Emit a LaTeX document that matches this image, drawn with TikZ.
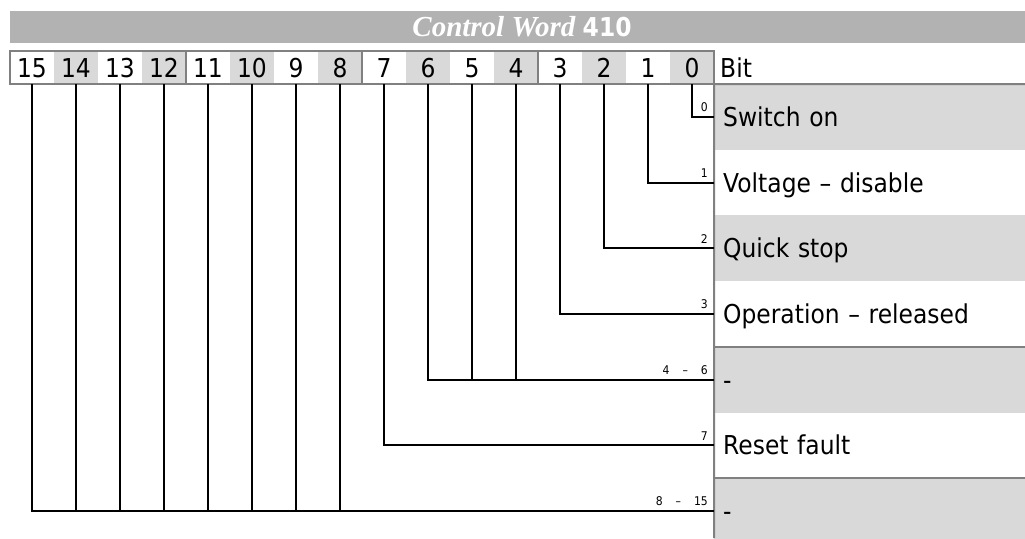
\documentclass[tikz,border=0pt]{standalone}
\usepackage{fontspec}
\setmainfont{DejaVu Sans}[FakeStretch=0.9]
\newfontfamily\headserif{Liberation Serif}
\usetikzlibrary{positioning}
\definecolor{cwgray}{RGB}{217,217,217}
\definecolor{cwhead}{RGB}{178,178,178}
\definecolor{cwline}{RGB}{128,128,128}
\tikzset{
  bitcell/.style={fill=#1, minimum width=44pt, minimum height=33pt, inner sep=0pt,
                  text height=19pt, text depth=0pt, font=\fontsize{26}{30}\selectfont},
  rowbox/.style={fill=#1, anchor=west, minimum height=65.7pt, inner xsep=9pt, inner ysep=0pt,
                 text width=293pt, text height=19pt, text depth=0pt, align=left,
                 font=\fontsize{26}{30}\selectfont},
  bitlbl/.style={anchor=south east, inner xsep=6pt, inner ysep=5pt, font=\fontsize{12}{14}\selectfont},
  wire/.style={black, line width=2pt},
  sepline/.style={cwline, line width=2pt},
}

\begin{document}
\begin{tikzpicture}[x=1pt, y=-1pt]
\useasboundingbox (0,0) rectangle (1025,538);

% --- Header ---
\fill[cwhead] (10,11) rectangle (1025,43);
\node[text=white, font=\fontsize{29}{32}\selectfont] (title) at (522,27)
      {\headserif\bfseries\itshape Control Word \normalfont\bfseries\fontsize{26}{28}\selectfont 410};

% --- Bit row ---
\node[bitcell=white]  (b15) at (32,67.5)  {15};
\node[bitcell=cwgray] (b14) at (76,67.5)  {14};
\node[bitcell=white]  (b13) at (120,67.5) {13};
\node[bitcell=cwgray] (b12) at (164,67.5) {12};
\node[bitcell=white]  (b11) at (208,67.5) {11};
\node[bitcell=cwgray] (b10) at (252,67.5) {10};
\node[bitcell=white]  (b9)  at (296,67.5) {9};
\node[bitcell=cwgray] (b8)  at (340,67.5) {8};
\node[bitcell=white]  (b7)  at (384,67.5) {7};
\node[bitcell=cwgray] (b6)  at (428,67.5) {6};
\node[bitcell=white]  (b5)  at (472,67.5) {5};
\node[bitcell=cwgray] (b4)  at (516,67.5) {4};
\node[bitcell=white]  (b3)  at (560,67.5) {3};
\node[bitcell=cwgray] (b2)  at (604,67.5) {2};
\node[bitcell=white]  (b1)  at (648,67.5) {1};
\node[bitcell=cwgray] (b0)  at (692,67.5) {0};
\node[anchor=west, inner sep=0pt, text height=19pt, text depth=0pt,
      font=\fontsize{26}{30}\selectfont] (bithead) at (720,67.5) {Bit};

% --- Meaning rows ---
\node[rowbox=cwgray] (r0) at (714,116.85) {Switch on};
\node[rowbox=white]  (r1) at (714,182.55) {Voltage – disable};
\node[rowbox=cwgray] (r2) at (714,248.25) {Quick stop};
\node[rowbox=white]  (r3) at (714,313.95) {Operation – released};
\node[rowbox=cwgray] (r4) at (714,379.65) {-};
\node[rowbox=white]  (r5) at (714,445.35) {Reset fault};
\node[rowbox=cwgray] (r6) at (714,511.05) {-};

% Grey rules
\draw[sepline] (b15.north west) rectangle (b0.south east);
\draw[sepline] (b12.north east) -- (b12.south east);
\draw[sepline] (b8.north east) -- (b8.south east);
\draw[sepline] (b4.north east) -- (b4.south east);
\draw[sepline] (b0.south east) -- (1025,84);
\draw[sepline] (b0.south east) -- (714,538);
\draw[sepline] (r4.north west) -- (r4.north east);
\draw[sepline] (r6.north west) -- (r6.north east);

% Bit wires
\draw[wire] (b0.south) |- (r0.west);
\draw[wire] (b1.south) |- (r1.west);
\draw[wire] (b2.south) |- (r2.west);
\draw[wire] (b3.south) |- (r3.west);
\draw[wire] (b6.south) |- (r4.west);
\draw[wire] (b5.south) -- (b5.south |- r4.west);
\draw[wire] (b4.south) -- (b4.south |- r4.west);
\draw[wire] (b7.south) |- (r5.west);
\draw[wire] (b15.south) |- (r6.west);
\draw[wire] (b14.south) -- (b14.south |- r6.west);
\draw[wire] (b13.south) -- (b13.south |- r6.west);
\draw[wire] (b12.south) -- (b12.south |- r6.west);
\draw[wire] (b11.south) -- (b11.south |- r6.west);
\draw[wire] (b10.south) -- (b10.south |- r6.west);
\draw[wire] (b9.south) -- (b9.south |- r6.west);
\draw[wire] (b8.south) -- (b8.south |- r6.west);

% Bit numbers at the wires
\node[bitlbl] (l0) at (r0.west) {0};
\node[bitlbl] (l1) at (r1.west) {1};
\node[bitlbl] (l2) at (r2.west) {2};
\node[bitlbl] (l3) at (r3.west) {3};
\node[bitlbl] (l4) at (r4.west) {4\hspace{13pt}–\hspace{13pt}6};
\node[bitlbl] (l5) at (r5.west) {7};
\node[bitlbl] (l6) at (r6.west) {8\hspace{13pt}–\hspace{13pt}15};

\end{tikzpicture}
\end{document}
